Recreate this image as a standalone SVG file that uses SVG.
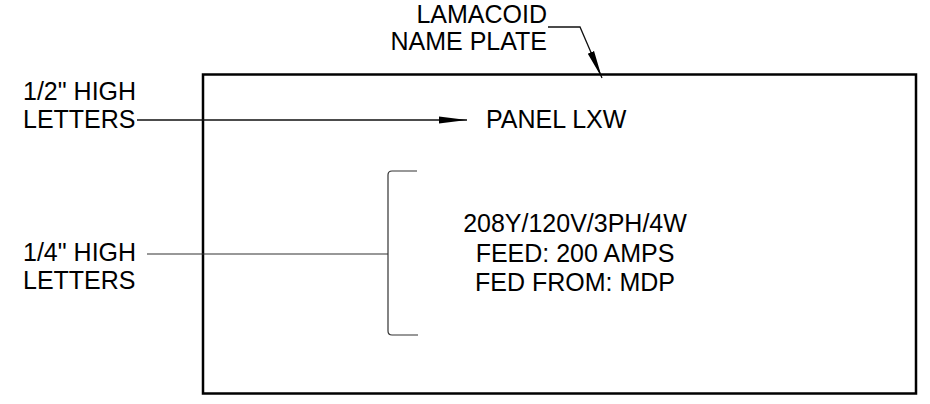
<svg xmlns="http://www.w3.org/2000/svg" width="930" height="404" viewBox="0 0 930 404">
<style>
text{font-family:"Liberation Sans",Arial,sans-serif;font-size:25px;fill:#000}
.lead{stroke:#111;stroke-width:1.3;fill:none}
.thin{stroke:#333;stroke-width:1.2;fill:none}
</style>
<defs>
<marker id="ah" markerUnits="userSpaceOnUse" markerWidth="30" markerHeight="10" refX="28" refY="5" orient="auto"><path d="M0,5 L0,1.6 L28,5 L0,8.4 Z" fill="#000"/></marker>
</defs>
<g id="plate"><rect x="203" y="74.5" width="713" height="319" fill="none" stroke="#000" stroke-width="2.5"/></g>
<g id="labels">
<g id="lamacoid"><text x="547" y="23" text-anchor="end">LAMACOID</text><text x="547" y="50" text-anchor="end">NAME PLATE</text></g>
<g id="half"><text x="23" y="100">1/2" HIGH</text><text x="23" y="128">LETTERS</text></g>
<g id="quarter"><text x="23" y="261">1/4" HIGH</text><text x="23" y="289">LETTERS</text></g>
<g id="panel"><text x="486" y="128">PANEL LXW</text></g>
<g id="info"><text x="575" y="232" text-anchor="middle">208Y/120V/3PH/4W</text><text x="575" y="262" text-anchor="middle">FEED: 200 AMPS</text><text x="575" y="291" text-anchor="middle">FED FROM: MDP</text></g>
</g>
<g id="connectors">
<path class="lead" d="M548,27 H580 L602,78" marker-end="url(#ah)"/>
<path class="lead" d="M137,120 H467" marker-end="url(#ah)"/>
<path class="thin" d="M147,254 H388"/>
<path class="thin" d="M417,171 H392 Q388,171 388,175 V331 Q388,335 392,335 H418"/>
</g>
</svg>
